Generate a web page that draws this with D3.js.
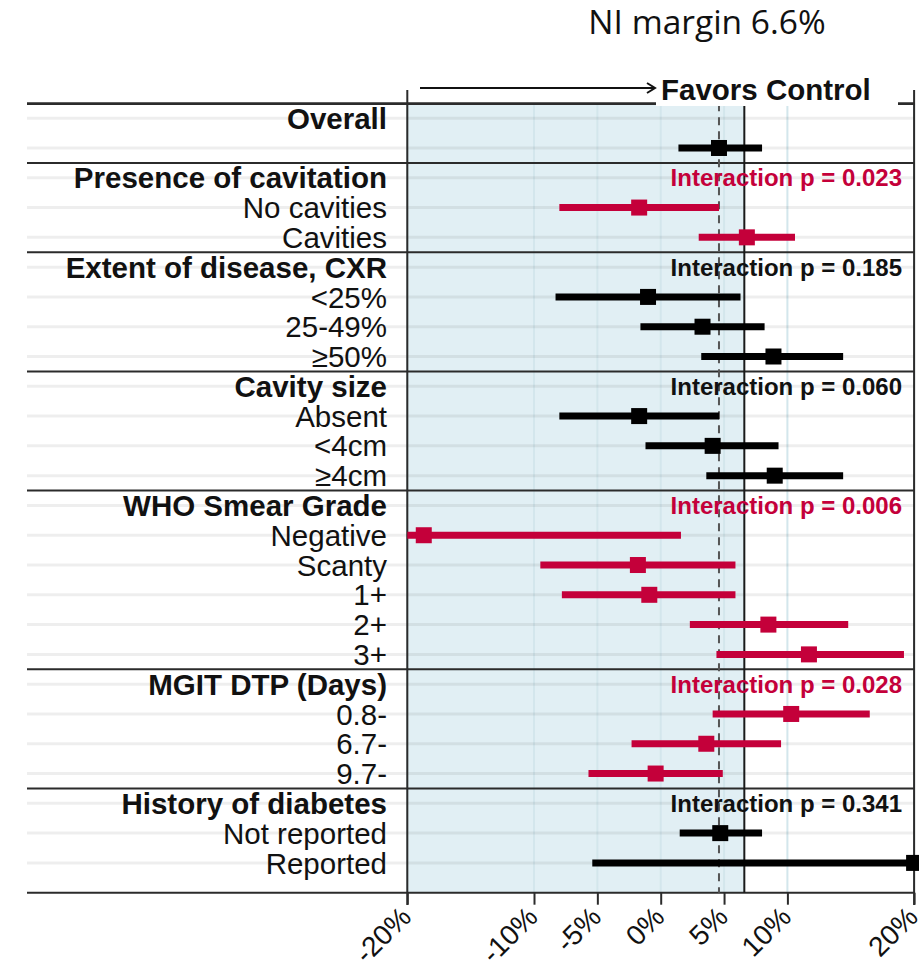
<!DOCTYPE html>
<html>
<head>
<meta charset="utf-8">
<script src="https://cdn.jsdelivr.net/npm/d3@7"></script>
<style>
  html, body { margin: 0; padding: 0; background: #fff; }
  svg { display: block; }
  text { font-family: "Liberation Sans", Arial, sans-serif; }
</style>
</head>
<body>
<svg id="chart" width="919" height="967"></svg>
<script>
// Subgroup risk differences (percentage points) with 95% CIs
const groupNames = ["Overall", "Presence of cavitation", "Extent of disease, CXR", "Cavity size",
                    "WHO Smear Grade", "MGIT DTP (Days)", "History of diabetes"];
const interactionP = [null, "0.023", "0.185", "0.060", "0.006", "0.028", "0.341"];
const significant = [false, true, false, false, true, true, false];
const subgroupLabels = [
  [""],
  ["No cavities", "Cavities"],
  ["<25%", "25-49%", "≥50%"],
  ["Absent", "<4cm", "≥4cm"],
  ["Negative", "Scanty", "1+", "2+", "3+"],
  ["0.8-", "6.7-", "9.7-"],
  ["Not reported", "Reported"]
];
const estimates = [
  [4.6],
  [-1.7, 6.8],
  [-1.0, 3.3, 8.9],
  [-1.7, 4.1, 9.0],
  [-18.7, -1.8, -0.9, 8.5, 11.7],
  [10.3, 3.6, -0.4],
  [4.7, 20.0]
];
const lowerCI = [
  [1.4],
  [-8.0, 3.0],
  [-8.3, -1.6, 3.2],
  [-8.0, -1.2, 3.6],
  [-20.0, -9.5, -7.8, 2.3, 4.4],
  [4.1, -2.3, -5.7],
  [1.5, -5.4]
];
const upperCI = [
  [8.0],
  [4.6, 10.6],
  [6.3, 8.2, 14.4],
  [4.6, 9.3, 14.4],
  [1.6, 5.9, 5.9, 14.8, 19.2],
  [16.5, 9.5, 4.9],
  [8.0, 20.0]
];
const tickValues = [-20, -10, -5, 0, 5, 10, 20];
const tickLabels = ["-20%", "-10%", "-5%", "0%", "5%", "10%", "20%"];
const niMargin = 6.6;
const overallEstimate = estimates[0][0];

// Flatten into one row per line of the table
const rows = [];
groupNames.forEach((g, gi) => {
  rows.push({ key: "h" + gi, kind: "header", label: g, group: gi });
  subgroupLabels[gi].forEach((s, si) => {
    rows.push({ key: "r" + gi + "_" + si, kind: "item", label: s, group: gi,
                est: estimates[gi][si], lo: lowerCI[gi][si], hi: upperCI[gi][si] });
  });
});

const RED = "#c4003a";
const svg = d3.select("#chart");

const outerLeft = 27, labelRight = 387;
const plotLeft = 407.3, plotRight = 914.1;
const rowTop = 103.3, rowBottom = 877.8, axisY = 892.7;

const x = d3.scaleLinear().domain([-20, 20]).range([plotLeft, plotRight]).clamp(true);
const y = d3.scaleBand().domain(rows.map(r => r.key)).range([rowTop, rowBottom]);
const yc = k => y(k) + y.bandwidth() / 2;

// Non-inferiority region
svg.append("rect")
  .attr("x", x(-20)).attr("y", rowTop)
  .attr("width", x(niMargin) - x(-20)).attr("height", axisY - rowTop)
  .attr("fill", "#e1eff4");

// Vertical gridlines
svg.append("g").selectAll("line").data(tickValues).join("line")
  .attr("x1", d => x(d)).attr("x2", d => x(d))
  .attr("y1", rowTop).attr("y2", axisY)
  .attr("stroke", "#d3e6ec").attr("stroke-width", 2);

// Row gridlines
svg.append("g").selectAll("line").data(rows).join("line")
  .attr("x1", outerLeft).attr("x2", plotRight)
  .attr("y1", d => yc(d.key)).attr("y2", d => yc(d.key))
  .attr("stroke", "rgba(0,0,0,0.065)").attr("stroke-width", 3);

// Group separators
const groupStarts = rows.filter(r => r.kind === "header").map(r => y(r.key));
svg.append("g").selectAll("line").data(groupStarts).join("line")
  .attr("x1", outerLeft).attr("x2", plotRight)
  .attr("y1", d => d).attr("y2", d => d)
  .attr("stroke", "#2b2b2b").attr("stroke-width", 2);

// Bottom axis line and ticks
svg.append("line")
  .attr("x1", outerLeft).attr("x2", plotRight)
  .attr("y1", axisY).attr("y2", axisY)
  .attr("stroke", "#2b2b2b").attr("stroke-width", 2);

// Plot side borders
[plotLeft, plotRight].forEach(px => {
  svg.append("line")
    .attr("x1", px).attr("x2", px).attr("y1", 90).attr("y2", 905)
    .attr("stroke", "#2b2b2b").attr("stroke-width", 2);
});

const axis = d3.axisBottom(x).tickValues(tickValues)
  .tickFormat((d, i) => tickLabels[i]).tickSize(12).tickSizeOuter(0);
const gAxis = svg.append("g").attr("transform", `translate(0,${axisY})`).call(axis);
gAxis.select(".domain").remove();
gAxis.selectAll(".tick line").attr("stroke", "#2b2b2b").attr("stroke-width", 2);
gAxis.selectAll(".tick text")
  .style("font-size", "28px").attr("fill", "#111")
  .attr("text-anchor", "end")
  .attr("x", 0).attr("y", 0).attr("dy", "0.35em")
  .attr("transform", "translate(-2,19) rotate(-45)");

// Reference lines: overall estimate (dashed) and NI margin (solid)
svg.append("line")
  .attr("x1", x(overallEstimate)).attr("x2", x(overallEstimate))
  .attr("y1", rowTop).attr("y2", axisY)
  .attr("stroke", "#555").attr("stroke-width", 2).attr("stroke-dasharray", "8,6");
svg.append("line")
  .attr("x1", x(niMargin)).attr("x2", x(niMargin))
  .attr("y1", rowTop).attr("y2", axisY)
  .attr("stroke", "#1a1a1a").attr("stroke-width", 2);

// Top border, interrupted by the direction label
svg.append("line")
  .attr("x1", outerLeft).attr("x2", plotRight)
  .attr("y1", rowTop + 0.8).attr("y2", rowTop + 0.8)
  .attr("stroke", "#2b2b2b").attr("stroke-width", 2);
svg.append("rect").attr("x", 656).attr("y", 70).attr("width", 242).attr("height", 36).attr("fill", "#fff");

// Direction arrow
svg.append("line").attr("x1", 420).attr("x2", 655).attr("y1", 88).attr("y2", 88)
  .attr("stroke", "#111").attr("stroke-width", 2);
svg.append("path").attr("d", "M647,83 L655,88 L647,93")
  .attr("fill", "none").attr("stroke", "#111").attr("stroke-width", 2);
svg.append("text").attr("x", 661).attr("y", 100)
  .attr("font-size", 29.5).attr("font-weight", "bold").attr("fill", "#111")
  .text("Favors Control");

// Title
svg.append("text").attr("x", 707).attr("y", 34).attr("text-anchor", "middle")
  .attr("font-size", 33.5).attr("fill", "#111")
  .style("font-family", "'Open Sans', sans-serif")
  .text("NI margin 6.6%");

// Row labels
svg.append("g").selectAll("text").data(rows).join("text")
  .attr("x", labelRight).attr("y", d => yc(d.key)).attr("dy", "0.36em")
  .attr("text-anchor", "end")
  .attr("font-size", 29.5)
  .attr("font-weight", d => d.kind === "header" ? "bold" : "normal")
  .attr("fill", "#111")
  .text(d => d.label);

// Interaction p-values
svg.append("g").selectAll("text")
  .data(rows.filter(r => r.kind === "header" && interactionP[r.group] !== null))
  .join("text")
  .attr("x", 902).attr("y", d => yc(d.key)).attr("dy", "0.36em")
  .attr("text-anchor", "end")
  .attr("font-size", 24).attr("font-weight", "bold")
  .attr("fill", d => significant[d.group] ? RED : "#111")
  .text(d => "Interaction p = " + interactionP[d.group]);

// Confidence intervals and point estimates
const items = rows.filter(r => r.kind === "item");
const colorOf = d => significant[d.group] ? RED : "#000";
svg.append("g").selectAll("line").data(items).join("line")
  .attr("x1", d => x(d.lo)).attr("x2", d => x(d.hi))
  .attr("y1", d => yc(d.key)).attr("y2", d => yc(d.key))
  .attr("stroke", colorOf).attr("stroke-width", 7);
const sq = 16;
svg.append("g").selectAll("rect").data(items).join("rect")
  .attr("x", d => x(d.est) - sq / 2).attr("y", d => yc(d.key) - sq / 2)
  .attr("width", sq).attr("height", sq)
  .attr("fill", colorOf);
</script>
</body>
</html>
